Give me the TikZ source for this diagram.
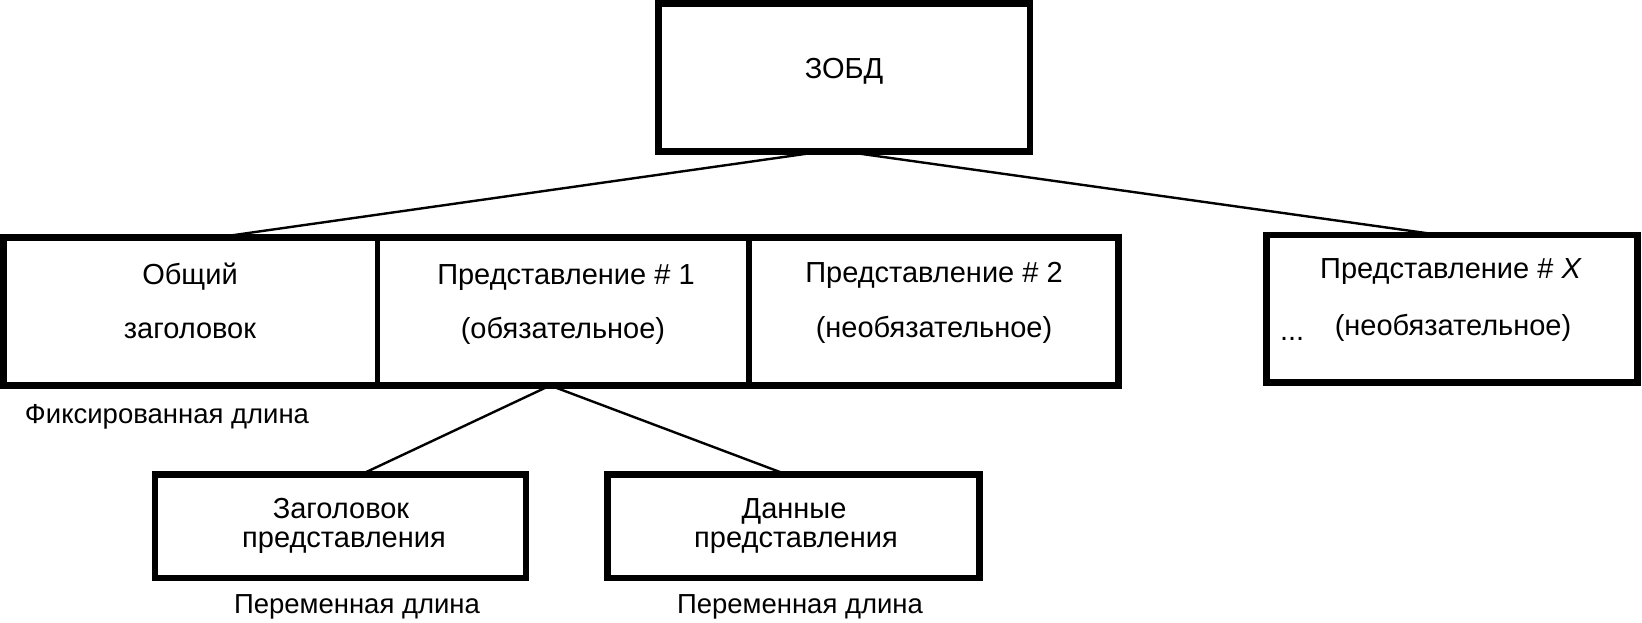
\documentclass[tikz,border=0pt]{standalone}
\usepackage{fontspec}
\setmainfont{Liberation Sans}
\begin{document}
\begin{tikzpicture}[x=0.5pt,y=-0.5pt,
  box/.style={draw=black, line width=3.3pt, inner sep=0pt, outer sep=0pt, rectangle},
  cell/.style={draw=black, line width=2.7pt, inner sep=0pt, outer sep=0pt, rectangle},
  frame/.style={draw=black, line width=3.3pt},
  txt/.style={font=\fontsize{13.75pt}{16pt}\selectfont, inner sep=0pt, outer sep=0pt, anchor=base},
  btxt/.style={font=\fontsize{14.5pt}{17pt}\selectfont, inner sep=0pt, outer sep=0pt, anchor=base},
  conn/.style={draw=black, line width=1.2pt}]
\useasboundingbox (0,0) rectangle (1642,622);

% top box
\node[box, minimum width=185.75pt, minimum height=74pt] (zobd) at (844.25,77.5) {};
\node[btxt] (tzobd) at (844,78) {ЗОБД};

% row of cells
\node[cell, minimum width=187.1pt, minimum height=74.1pt] (cell1) at (190.4,311.4) {};
\node[cell, minimum width=185.65pt, minimum height=74.1pt] (cell2) at (563.15,311.4) {};
\node[cell, minimum width=184.95pt, minimum height=74.1pt] (cell3) at (933.75,311.4) {};
\draw[frame] (cell1.north west) rectangle (cell3.south east);

\node[box, minimum width=185.25pt, minimum height=73.6pt] (cellx) at (1452,308.6) {};

% bottom boxes
\node[box, minimum width=185.5pt, minimum height=51.75pt] (hdr) at (340.5,526.25) {};
\node[box, minimum width=186.1pt, minimum height=51.75pt] (dat) at (793.6,526.25) {};

% texts
\node[btxt] (t1a) at (190,284) {Общий};
\node[btxt] (t1b) at (190,338) {заголовок};
\node[btxt] (t2a) at (566,284) {Представление \# 1};
\node[btxt] (t2b) at (563,338) {(обязательное)};
\node[btxt] (t3a) at (934,282) {Представление \# 2};
\node[btxt] (t3b) at (934,337) {(необязательное)};
\node[btxt] (txa) at (1451,278) {Представление \# \textit{X}};
\node[btxt] (txb) at (1453,335) {(необязательное)};
\node[btxt, anchor=base west] (dots) at (1280,340) {...};
\node[txt] (fix) at (167,423) {Фиксированная длина};
\node[btxt] (b1a) at (341,518) {Заголовок};
\node[btxt] (b1b) at (344,547) {представления};
\node[btxt] (b2a) at (794,518) {Данные};
\node[btxt] (b2b) at (796,547) {представления};
\node[txt] (v1) at (357,613) {Переменная длина};
\node[txt] (v2) at (800,613) {Переменная длина};

% connectors
\draw[conn] ([xshift=-11pt]zobd.south) -- ([xshift=13.8pt]cell1.north);
\draw[conn] (zobd.south) -- ([xshift=-6pt]cellx.north);
\draw[conn] ([xshift=-6.5pt]cell2.south) -- ([xshift=10.25pt]hdr.north);
\draw[conn] ([xshift=-6.5pt]cell2.south) -- ([xshift=-3.5pt]dat.north);
\end{tikzpicture}
\end{document}
